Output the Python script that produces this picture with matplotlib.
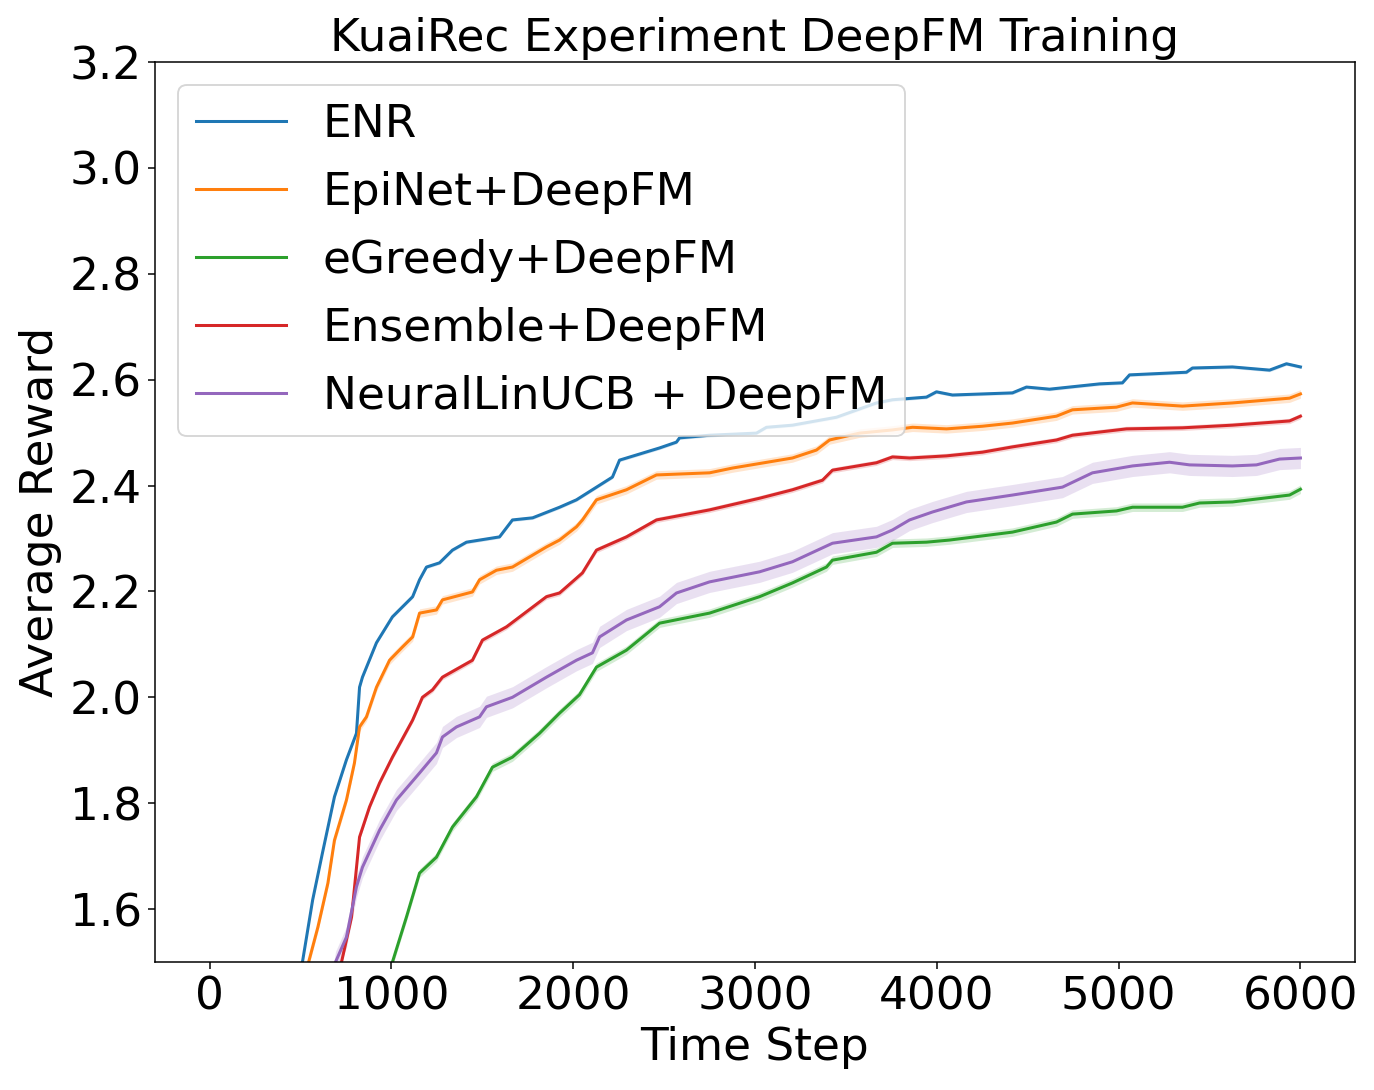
import numpy as np
import matplotlib
matplotlib.use("Agg")
import matplotlib.pyplot as plt

# ---- data ----
enr_t = [400, 511, 567, 621, 687, 753, 808, 825, 841, 918, 1006, 1117, 1155, 1193, 1265, 1336, 1413, 1595, 1666,
         1777, 1925, 2018, 2216, 2255, 2475, 2568, 2585, 2750, 3008, 3063, 3206, 3448, 3668, 3756, 3943, 3998, 4086,
         4416, 4493, 4620, 4895, 5021, 5060, 5373, 5406, 5626, 5830, 5923, 6000]
enr_y = [1.30, 1.50, 1.617, 1.706, 1.812, 1.882, 1.932, 2.019, 2.038, 2.103, 2.152, 2.19, 2.222, 2.246, 2.254,
         2.278, 2.293, 2.303, 2.335, 2.339, 2.359, 2.373, 2.416, 2.448, 2.471, 2.482, 2.49, 2.495, 2.499, 2.51,
         2.514, 2.529, 2.556, 2.562, 2.567, 2.577, 2.571, 2.575, 2.586, 2.582, 2.592, 2.594, 2.609, 2.614, 2.622,
         2.624, 2.618, 2.63, 2.624]

epi_t = [430, 545, 596, 651, 687, 753, 797, 825, 863, 918, 990, 1061, 1117, 1155, 1248, 1281, 1446, 1485, 1578,
         1666, 1853, 1925, 2018, 2051, 2128, 2293, 2458, 2750, 2876, 3206, 3338, 3410, 3575, 3756, 3866, 4053,
         4251, 4416, 4658, 4746, 4988, 5076, 5351, 5626, 5940, 6000]
epi_y = [1.30, 1.50, 1.566, 1.649, 1.73, 1.806, 1.876, 1.944, 1.963, 2.019, 2.07, 2.095, 2.114, 2.159, 2.165,
         2.184, 2.199, 2.222, 2.24, 2.246, 2.284, 2.297, 2.322, 2.335, 2.373, 2.392, 2.42, 2.424, 2.433, 2.452,
         2.467, 2.486, 2.499, 2.505, 2.51, 2.507, 2.512, 2.518, 2.531, 2.543, 2.548, 2.556, 2.55, 2.556, 2.565,
         2.573]

egr_t = [900, 1006, 1083, 1155, 1248, 1336, 1468, 1556, 1666, 1815, 1925, 1963, 2035, 2128, 2293, 2475, 2750,
         3025, 3206, 3393, 3426, 3668, 3756, 3943, 4070, 4416, 4658, 4746, 4988, 5076, 5351, 5445, 5626, 5940, 6000]
egr_y = [1.30, 1.50, 1.585, 1.668, 1.698, 1.755, 1.812, 1.868, 1.887, 1.932, 1.97, 1.982, 2.005, 2.057, 2.089,
         2.14, 2.159, 2.19, 2.216, 2.246, 2.259, 2.274, 2.291, 2.293, 2.297, 2.312, 2.331, 2.346, 2.352, 2.359,
         2.359, 2.367, 2.369, 2.382, 2.393]

ens_t = [640, 726, 781, 825, 880, 935, 1006, 1117, 1171, 1226, 1281, 1446, 1501, 1633, 1853, 1925, 2018, 2051,
         2128, 2293, 2458, 2750, 3025, 3206, 3371, 3426, 3668, 3756, 3850, 4053, 4251, 4416, 4658, 4746, 5043,
         5351, 5626, 5940, 6000]
ens_y = [1.30, 1.50, 1.585, 1.736, 1.793, 1.838, 1.887, 1.957, 2.0, 2.014, 2.038, 2.07, 2.108, 2.133, 2.19,
         2.197, 2.225, 2.235, 2.278, 2.303, 2.335, 2.354, 2.376, 2.392, 2.41, 2.429, 2.443, 2.454, 2.452, 2.456,
         2.463, 2.473, 2.486, 2.495, 2.507, 2.509, 2.514, 2.522, 2.531]

nlu_t = [600, 693, 753, 808, 841, 935, 1028, 1155, 1248, 1281, 1358, 1485, 1523, 1666, 1853, 1925, 2018, 2106,
         2145, 2293, 2475, 2568, 2750, 3025, 3206, 3426, 3668, 3756, 3850, 3976, 4163, 4416, 4691, 4856, 5076,
         5280, 5390, 5626, 5758, 5885, 6000]
nlu_y = [1.30, 1.50, 1.547, 1.642, 1.679, 1.749, 1.806, 1.857, 1.895, 1.925, 1.944, 1.963, 1.982, 2.0, 2.038,
         2.052, 2.07, 2.084, 2.114, 2.146, 2.171, 2.197, 2.218, 2.237, 2.256, 2.291, 2.303, 2.316, 2.335, 2.35,
         2.369, 2.382, 2.397, 2.424, 2.437, 2.444, 2.439, 2.437, 2.439, 2.45, 2.452]

labels = ["ENR", "EpiNet+DeepFM", "eGreedy+DeepFM", "Ensemble+DeepFM", "NeuralLinUCB + DeepFM"]
band_half = [0.003, 0.008, 0.008, 0.005, 0.02]   # shaded-band half-widths
colors = ["#1f77b4", "#ff7f0e", "#2ca02c", "#d62728", "#9467bd"]

series = [(enr_t, enr_y), (epi_t, epi_y), (egr_t, egr_y), (ens_t, ens_y), (nlu_t, nlu_y)]

fig = plt.figure(figsize=(1374 / 136, 1090 / 136), dpi=136)
ax = fig.add_axes([155 / 1374, 1 - 962 / 1090, 1200 / 1374, 900 / 1090])

for (t, y), lab, hw, c in zip(series, labels, band_half, colors):
    t = np.asarray(t, float)
    y = np.asarray(y, float)
    ax.plot(t, y, color=c, lw=1.6, label=lab)
    ax.fill_between(t, y - hw, y + hw, color=c, alpha=0.2, lw=0)

ax.set_xlim(-300, 6300)
ax.set_ylim(1.5, 3.2)
ax.set_xticks([0, 1000, 2000, 3000, 4000, 5000, 6000])
ax.set_yticks([1.6, 1.8, 2.0, 2.2, 2.4, 2.6, 2.8, 3.0, 3.2])
ax.tick_params(labelsize=24)
ax.set_xlabel("Time Step", fontsize=24)
ax.set_ylabel("Average Reward", fontsize=24)
ax.set_title("KuaiRec Experiment DeepFM Training", fontsize=24)
ax.legend(loc="upper left", fontsize=24, labelspacing=0.55)

fig.savefig("out.png", dpi=136)
